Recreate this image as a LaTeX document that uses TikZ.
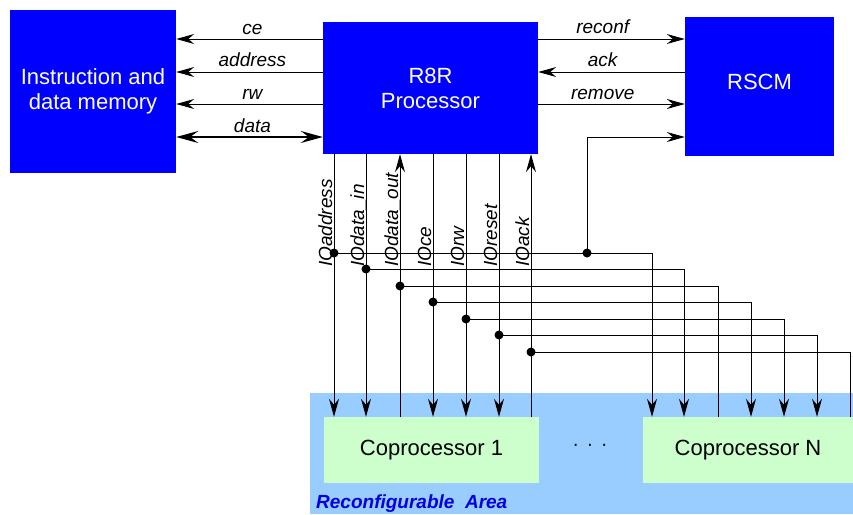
\documentclass[tikz,border=0pt]{standalone}
\usepackage{fontspec}
\setmainfont{Liberation Sans}
\usetikzlibrary{arrows.meta,calc}
\definecolor{boxblue}{RGB}{0,0,255}
\definecolor{areablue}{RGB}{153,204,255}
\definecolor{copgreen}{RGB}{204,255,204}
\definecolor{txtblue}{RGB}{0,0,225}
\begin{document}
\begin{tikzpicture}[x=1pt,y=-1pt,
  blk/.style={fill=boxblue, text=white, inner sep=0pt, font=\fontsize{22}{25}\selectfont, align=center},
  copbox/.style={fill=copgreen, inner sep=0pt, font=\fontsize{22}{25}\selectfont},
  lbl/.style={font=\fontsize{19}{22}\selectfont\itshape, inner sep=0pt},
  wire/.style={line width=1pt, black},
  arr/.style={wire, -{Stealth[length=18pt,width=10pt,inset=6pt]}},
  dotnode/.style={circle, fill=black, inner sep=0pt, minimum size=9pt}
]
\useasboundingbox (0,0) rectangle (853,514);
\fill[white] (0,0) rectangle (853,514);

% main blocks
\node[blk, minimum width=166pt, minimum height=163pt] (mem) at (93,91.5) {Instruction and\\data memory};
\node[blk, minimum width=215pt, minimum height=132pt] (proc) at (430.5,88) {R8R\\Processor};
\node[blk, minimum width=149pt, minimum height=139pt] (rscm) at (759.5,86.5) {};
\node[text=white, inner sep=0pt, font=\fontsize{22}{25}\selectfont] (rscmtxt) at (759.5,81.5) {RSCM};

% reconfigurable area
\node[fill=areablue, inner sep=0pt, minimum width=543pt, minimum height=121pt] (area) at (581.5,453.5) {};
\node[copbox, minimum width=215pt, minimum height=66pt] (cop1) at (431.5,450) {Coprocessor 1};
\node[copbox, minimum width=210pt, minimum height=66pt] (copN) at (748,450) {Coprocessor N};
\node[inner sep=0pt, font=\fontsize{19}{22}\selectfont] (dots) at (590,447) {·\hspace{8pt}·\hspace{8pt}·};
\node[inner sep=0pt, anchor=base west, text=txtblue, font=\fontsize{19}{22}\selectfont\bfseries\itshape] (ratxt) at (316,508) {Reconfigurable\ \ Area};

% memory interface
\draw[arr] (proc.west |- 0,39) -- node[lbl, pos=0.48, anchor=base, yshift=5pt] {ce} (mem.east |- 0,39);
\draw[arr] (proc.west |- 0,72) -- node[lbl, pos=0.48, anchor=base, yshift=6pt] {address} (mem.east |- 0,72);
\draw[arr] (proc.west |- 0,104) -- node[lbl, pos=0.48, anchor=base, yshift=5pt] {rw} (mem.east |- 0,104);
\draw[line width=2.2pt, {Stealth[length=22pt,width=12pt,inset=8pt]}-{Stealth[length=22pt,width=12pt,inset=8pt]}] (mem.east |- 0,137) -- node[lbl, pos=0.52, anchor=base, yshift=5pt] {data} (proc.west |- 0,137);

% RSCM interface
\draw[arr] (proc.east |- 0,39) -- node[lbl, pos=0.44, anchor=base, yshift=6pt] {reconf} (rscm.west |- 0,39);
\draw[arr] (rscm.west |- 0,72) -- node[lbl, pos=0.56, anchor=base, yshift=6pt] {ack} (proc.east |- 0,72);
\draw[arr] (proc.east |- 0,104) -- node[lbl, pos=0.44, anchor=base, yshift=5pt] {remove} (rscm.west |- 0,104);

% branch points
\coordinate (b1) at (334,253);
\coordinate (b2) at (366,269);
\coordinate (b3) at (400,286);
\coordinate (b4) at (433,302);
\coordinate (b5) at (466,319);
\coordinate (b6) at (499,335);
\coordinate (b7) at (531,352);
\coordinate (br) at (587,253);

% IO bus to coprocessor 1
\draw[arr] (proc.south -| b1) -- (cop1.north -| b1);
\draw[arr] (proc.south -| b2) -- (cop1.north -| b2);
\draw[arr] (cop1.north -| b3) -- (proc.south -| b3);
\draw[arr] (proc.south -| b4) -- (cop1.north -| b4);
\draw[arr] (proc.south -| b5) -- (cop1.north -| b5);
\draw[arr] (proc.south -| b6) -- (cop1.north -| b6);
\draw[arr] (cop1.north -| b7) -- (proc.south -| b7);

% IO bus to coprocessor N
\draw[arr] (b1) -| (copN.north -| 652,0);
\draw[arr] (b2) -| (copN.north -| 684,0);
\draw[wire] (copN.north -| 718,0) |- (b3);
\draw[arr] (b4) -| (copN.north -| 751,0);
\draw[arr] (b5) -| (copN.north -| 784,0);
\draw[arr] (b6) -| (copN.north -| 817,0);
\draw[wire] (copN.north -| 850,0) |- (b7);

% branch to RSCM
\draw[arr] (br) |- (rscm.west |- 0,137);

% dots
\foreach \p in {b1,b2,b3,b4,b5,b6,b7,br} \node[dotnode] (d\p) at (\p) {};

% vertical labels
\node[lbl, rotate=90, anchor=base west] (l1) at (332,267) {IOaddress};
\node[lbl, rotate=90, anchor=base west] (l2) at (364,267) {IOdata\_in};
\node[lbl, rotate=90, anchor=base west] (l3) at (398,267) {IOdata\_out};
\node[lbl, rotate=90, anchor=base west] (l4) at (431,267) {IOce};
\node[lbl, rotate=90, anchor=base west] (l5) at (464,267) {IOrw};
\node[lbl, rotate=90, anchor=base west] (l6) at (497,267) {IOreset};
\node[lbl, rotate=90, anchor=base west] (l7) at (529,267) {IOack};
\end{tikzpicture}
\end{document}
